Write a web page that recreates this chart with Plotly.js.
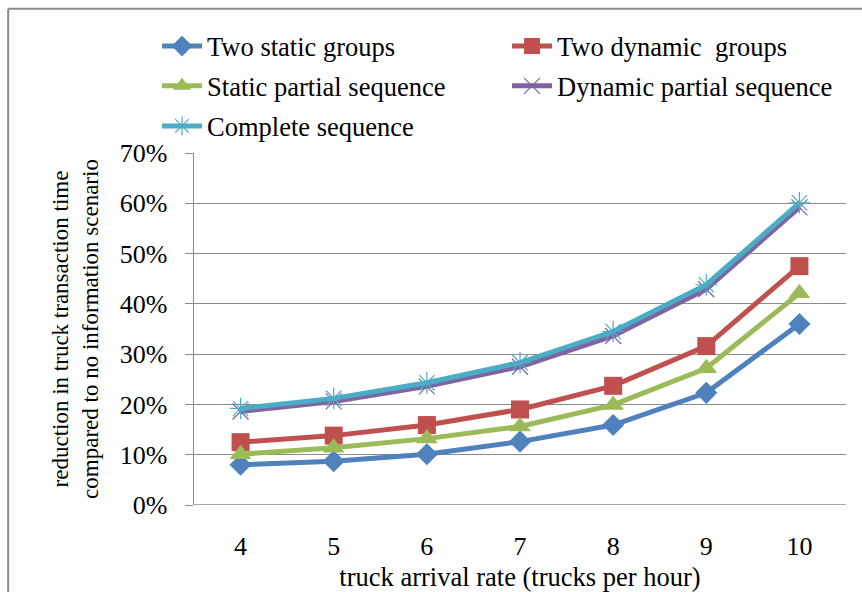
<!DOCTYPE html>
<html>
<head>
<meta charset="utf-8">
<script src="https://cdn.plot.ly/plotly-3.0.1.min.js"></script>
<style>
  html, body { margin: 0; padding: 0; background: #fff; }
  #chart { width: 862px; height: 592px; }
</style>
</head>
<body>
<div id="chart"></div>
<script>
// Truck arrival rate categories (trucks per hour)
const arrivalRates = [4, 5, 6, 7, 8, 9, 10];
const xTickLabels = ['4', '5', '6', '7', '8', '9', '10'];

// Reduction in truck transaction time vs. the no-information scenario
const twoStaticGroups        = [0.080, 0.087, 0.101, 0.126, 0.159, 0.223, 0.360];
const twoDynamicGroups       = [0.125, 0.138, 0.159, 0.190, 0.237, 0.316, 0.475];
const staticPartialSequence  = [0.101, 0.114, 0.132, 0.156, 0.199, 0.272, 0.421];
const dynamicPartialSequence = [0.186, 0.206, 0.236, 0.275, 0.336, 0.429, 0.592];
const completeSequence       = [0.192, 0.212, 0.243, 0.283, 0.345, 0.438, 0.601];

const yTickVals = [0, 0.1, 0.2, 0.3, 0.4, 0.5, 0.6, 0.7];
const yTickLabels = ['0%', '10%', '20%', '30%', '40%', '50%', '60%', '70%'];

const FONT = 'Liberation Serif, serif';

function series(name, y, color, symbol, size, legend, open) {
  const marker = { symbol: symbol, size: size, color: color };
  if (open) marker.line = { color: color, width: 1.2 };
  return {
    type: 'scatter', mode: 'lines+markers', name: name,
    x: arrivalRates, y: y, legend: legend,
    line: { color: color, width: 5 },
    marker: marker
  };
}

const traces = [
  series('Two static groups', twoStaticGroups, '#4F81BD', 'diamond', 17, 'legend', false),
  series('Two dynamic  groups', twoDynamicGroups, '#C0504D', 'square', 18, 'legend', false),
  series('Static partial sequence', staticPartialSequence, '#9BBB59', 'triangle-up', 19, 'legend2', false),
  series('Dynamic partial sequence', dynamicPartialSequence, '#8064A2', 'x-thin-open', 16, 'legend2', true),
  series('Complete sequence', completeSequence, '#4BACC6', 'asterisk-open', 18, 'legend3', true)
];

function legendRow(yPos) {
  return {
    orientation: 'h', x: -0.0567, xanchor: 'left', y: yPos, yanchor: 'middle',
    itemwidth: 40, entrywidth: 295, entrywidthmode: 'pixels',
    font: { family: FONT, size: 26.5, color: '#000' },
    bgcolor: 'rgba(0,0,0,0)', traceorder: 'normal'
  };
}

const layout = {
  width: 862, height: 592,
  margin: { l: 194, r: 16, t: 153, b: 87 },
  paper_bgcolor: '#fff', plot_bgcolor: '#fff',
  font: { family: FONT, size: 26, color: '#000' },
  showlegend: true,
  legend: legendRow(1.303),
  legend2: legendRow(1.19),
  legend3: legendRow(1.076),
  xaxis: {
    type: 'linear', range: [3.5, 10.5],
    tickvals: arrivalRates, ticktext: xTickLabels,
    showgrid: false, zeroline: false, showline: false,
    ticks: '', ticklabelstandoff: 23,
    tickfont: { family: FONT, size: 26, color: '#000' },
    title: { text: 'truck arrival rate (trucks per hour)', standoff: 8,
             font: { family: FONT, size: 26.5, color: '#000' } }
  },
  yaxis: {
    range: [0, 0.7], tickvals: yTickVals, ticktext: yTickLabels,
    showgrid: true, gridcolor: '#8c8c8c', gridwidth: 1.2,
    zeroline: false, showline: true, linecolor: '#8c8c8c', linewidth: 1.5,
    ticks: 'outside', ticklen: 8, tickcolor: '#8c8c8c', ticklabelstandoff: 12,
    tickfont: { family: FONT, size: 26, color: '#000' },
    title: { text: 'reduction in truck transaction time<br>compared to no information scenario',
             standoff: 14, font: { family: FONT, size: 23, color: '#000' } }
  },
  shapes: [
    // baseline gridline at 0%
    { type: 'line', xref: 'paper', yref: 'y', x0: 0, x1: 1, y0: 0, y1: 0,
      line: { color: '#8c8c8c', width: 1.5 } },
    // chart frame
    { type: 'line', xref: 'paper', yref: 'paper', x0: -0.285, x1: -0.285, y0: -0.3, y1: 1.41,
      line: { color: '#8a8a8a', width: 2 } },
    { type: 'line', xref: 'paper', yref: 'paper', x0: -0.285, x1: 1.1, y0: 1.41, y1: 1.41,
      line: { color: '#8a8a8a', width: 2 } }
  ]
};

Plotly.newPlot('chart', traces, layout, { displayModeBar: false, staticPlot: true });
</script>
</body>
</html>
